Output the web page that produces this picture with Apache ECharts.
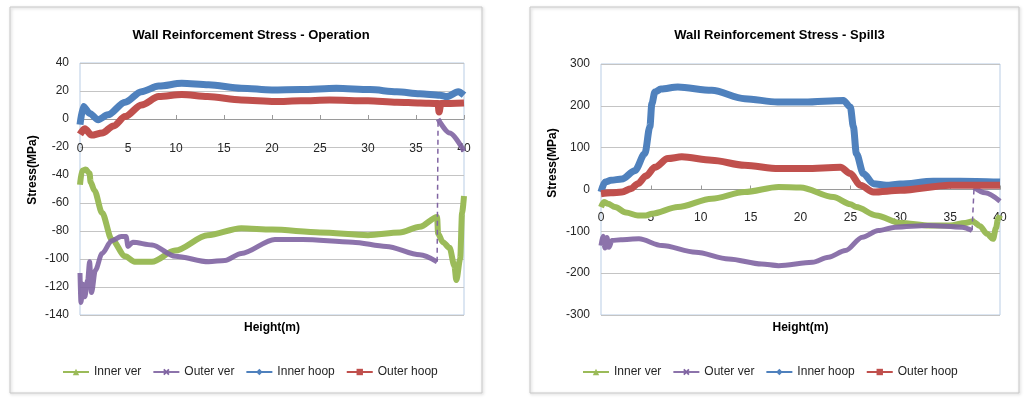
<!DOCTYPE html>
<html lang="en">
<head>
<meta charset="UTF-8">
<title>Wall Reinforcement Stress</title>
<script src="https://cdn.jsdelivr.net/npm/echarts@6/dist/echarts.min.js"></script>
<style>
    *{
        margin: 0;
        padding: 0;
    }
    html, body{
        width: 1024px;
        height: 398px;
        background: #fff;
    }
    .container{
        width: 1024px;
        height: 398px;
    }
</style>
</head>
<body>
<div class="container"></div>
<script>
    // ---- Operation ----
    let opInnerVerX = [0, 0.2, 0.6, 1.0, 1.1, 1.5, 2.3, 3.3, 4.7, 5.7, 7.5, 9.9, 13.3, 16.8, 20, 25, 30, 33.3, 35.4, 37.2, 37.3, 37.8, 38.5, 39.0, 39.2, 39.6, 39.8, 40];
    let opInnerVer  = [-47, -37, -36, -39, -45, -51, -67, -86, -98, -102, -102, -94, -83, -78, -79, -81, -83, -81, -77, -70, -82, -88, -92, -105, -115, -100, -67, -55];

    let opOuterVerLowX = [0, 0.1, 0.3, 0.5, 0.8, 1.0, 1.2, 1.6, 2.3, 3.3, 4.3, 4.8, 5.0, 5.5, 7.5, 9.9, 13.4, 15.1, 16.8, 20.3, 23.2, 28.4, 31.9, 35.4, 37.2];
    let opOuterVerLow  = [-110, -131, -118, -127, -115, -102, -124, -108, -96, -87, -84, -84, -91, -88, -90, -98, -102, -101, -96, -86, -86, -88, -91, -97, -102];
    let opOuterVerTopX = [37.3, 38.5, 40];
    let opOuterVerTop  = [0, -10, -23];

    let opInnerHoopX = [0, 0.35, 1, 1.9, 2.9, 4.7, 6.4, 8.2, 10.6, 13.4, 16.8, 20, 23, 26.7, 30.2, 33, 35.4, 37.5, 38.2, 39.4, 40];
    let opInnerHoop  = [-4, 9, 4, -0.5, 3, 12, 19.5, 23.5, 25.5, 24.5, 22, 20.7, 21, 22, 21, 19.5, 18, 17, 16, 19.5, 17];

    let opOuterHoopX = [0, 0.5, 1.2, 2.3, 3.5, 4.7, 6.4, 8.2, 10.6, 13.3, 16.8, 20.3, 23, 26, 30, 33, 35.4, 37.3, 37.4, 37.6, 40];
    let opOuterHoop  = [-11, -7, -11.5, -10, -5, 1.7, 10, 16, 17.5, 16, 13.6, 12.5, 13, 13.5, 13, 12, 11.4, 11, 5, 11, 11.4];

    // ---- Spill3 ----
    let spInnerVerX = [0, 0.3, 0.7, 1.4, 2.5, 3.7, 4.5, 5.1, 7.7, 11.1, 14.4, 17.8, 20, 23.3, 25, 25.6, 27.6, 30, 33, 35, 36.5, 37.3, 37.4, 38, 38.7, 39.3, 39.6, 39.8, 40];
    let spInnerVer  = [-42, -30, -34, -42, -55, -62, -62, -58, -42, -22, -6, 6, 5, -18, -35, -42, -62, -80, -86, -86, -80, -76, -78, -88, -106, -118, -92, -70, -62];

    let spOuterVerLowX = [0, 0.2, 0.4, 0.6, 0.8, 1.1, 2, 3.8, 6.1, 9.5, 12.8, 16.1, 17.8, 21.2, 22.8, 24.5, 26.2, 27.8, 29.5, 32.8, 36.2, 37.2];
    let spOuterVerLow  = [-134, -112, -140, -115, -138, -122, -120, -118, -134, -150, -166, -178, -182, -174, -162, -146, -114, -98, -90, -86, -90, -98];
    let spOuterVerTopX = [37.4, 38.5, 40];
    let spOuterVerTop  = [5, -8, -28];

    let spInnerHoopX = [0, 0.4, 1, 2.1, 3.4, 4.4, 4.9, 5.1, 5.4, 6, 7.7, 11.1, 14.4, 17.7, 20.4, 24.3, 25, 25.3, 25.6, 26.3, 27.3, 28.6, 30, 33.3, 36, 40];
    let spInnerHoop  = [-6, 18, 22, 25, 45, 86, 150, 205, 233, 240, 245, 237, 217, 209, 209, 213, 197, 150, 86, 38, 14, 10, 13, 20, 20, 18];

    let spOuterHoopX = [0, 1, 2.1, 3, 3.7, 4.5, 5.4, 6.7, 8.1, 11.1, 14.4, 17.8, 20.5, 24, 25, 26, 27.3, 30, 35, 40];
    let spOuterHoop  = [-10, -8, -6, 2, 14, 32, 53, 74, 78, 70, 58, 50, 50, 53, 38, 10, -6, -2, 10, 10];

    let names = ['Inner ver', 'Outer ver', 'Inner hoop', 'Outer hoop'];
    let titles = ['Wall Reinforcement Stress - Operation', 'Wall Reinforcement Stress - Spill3'];
    let xTicks = {min: 0, max: 40, interval: 5};
    let yTicks = [{min: -140, max: 40, interval: 20}, {min: -300, max: 300, interval: 100}];

    const FONT = "'Liberation Sans', Arial, sans-serif";
    const colors = {'Inner ver': '#9bbb59', 'Outer ver': '#8064a2', 'Inner hoop': '#4f81bd', 'Outer hoop': '#c0504d'};
    const symbols = {
        'Inner ver': 'triangle',
        'Outer ver': 'path://M0,2L2,0L5,3L8,0L10,2L7,5L10,8L8,10L5,7L2,10L0,8L3,5Z',
        'Inner hoop': 'diamond',
        'Outer hoop': 'rect'
    };

    let container = document.querySelector('.container');
    let mycharts = echarts.init(container);

    function pairs(xs, ys){
        return xs.map((x, i) => [x, ys[i]]);
    }

    function line(name, data, grid, opts){
        return Object.assign({
            name: name,
            type: 'line',
            xAxisIndex: grid,
            yAxisIndex: grid,
            data: data,
            symbol: symbols[name],
            showSymbol: false,
            smooth: 0.3,
            smoothMonotone: 'x',
            lineStyle: {color: colors[name], width: 7},
            itemStyle: {color: colors[name]},
            emphasis: {disabled: true},
            animation: false
        }, opts || {});
    }

    let sets = [
        {iv: pairs(opInnerVerX, opInnerVer), lo: pairs(opOuterVerLowX, opOuterVerLow), hi: pairs(opOuterVerTopX, opOuterVerTop),
         ih: pairs(opInnerHoopX, opInnerHoop), oh: pairs(opOuterHoopX, opOuterHoop)},
        {iv: pairs(spInnerVerX, spInnerVer), lo: pairs(spOuterVerLowX, spOuterVerLow), hi: pairs(spOuterVerTopX, spOuterVerTop),
         ih: pairs(spInnerHoopX, spInnerHoop), oh: pairs(spOuterHoopX, spOuterHoop)}
    ];

    let series = [];
    sets.forEach((s, g) => {
        series.push(line('Inner ver', s.iv, g, {lineStyle: {color: colors['Inner ver'], width: 6}}));
        series.push(line('Outer ver', s.lo, g, {lineStyle: {color: colors['Outer ver'], width: 5, opacity: 0.9}}));
        // the jump in the outer vertical curve shows up as a thin broken line
        series.push(line('Outer ver', [s.lo[s.lo.length - 1], s.hi[0]], g,
            {smooth: false, lineStyle: {color: colors['Outer ver'], width: 1.5, type: [5, 4]}}));
        series.push(line('Outer ver', s.hi, g, {lineStyle: {color: colors['Outer ver'], width: 5, opacity: 0.9}}));
        series.push(line('Inner hoop', s.ih, g));
        series.push(line('Outer hoop', s.oh, g));
    });

    let grids = [
        {left: 80, top: 63, width: 384, height: 252},
        {left: 601, top: 64, width: 399, height: 251}
    ];
    let boxes = [
        {x: 10, y: 7, width: 472, height: 386},
        {x: 530, y: 7, width: 489, height: 386}
    ];
    // pixel distance from the bottom of each plot up to its zero line
    let zeroLift = grids.map((g, i) => g.height * (0 - yTicks[i].min) / (yTicks[i].max - yTicks[i].min));

    let options = {
        backgroundColor: '#fff',
        animation: false,
        title: titles.map((t, i) => ({
            text: t,
            left: boxes[i].x + boxes[i].width / 2,
            top: 24,
            textAlign: 'center',
            textStyle: {fontFamily: FONT, fontSize: 13, fontWeight: 'bold', color: '#000'}
        })),
        grid: grids.map(g => Object.assign({
            show: true, borderColor: '#b9cde5', borderWidth: 1, backgroundColor: 'transparent',
            containLabel: false, outerBoundsMode: 'none'
        }, g)),
        xAxis: [0, 1].map(i => ({
            gridIndex: i,
            type: 'value',
            min: xTicks.min,
            max: xTicks.max,
            interval: xTicks.interval,
            position: 'bottom',
            offset: -zeroLift[i],
            name: 'Height(m)',
            nameLocation: 'middle',
            nameGap: zeroLift[i] + 7,
            nameTextStyle: {fontFamily: FONT, fontSize: 12, fontWeight: 'bold', color: '#000'},
            axisLine: {onZero: false, lineStyle: {color: '#9a9a9a', width: 1}},
            axisTick: {show: true, inside: true, length: 4, lineStyle: {color: '#9a9a9a'}},
            axisLabel: {margin: i === 0 ? 24 : 22, fontFamily: FONT, fontSize: 12, color: '#262626'},
            splitLine: {show: false}
        })),
        yAxis: [0, 1].map(i => ({
            gridIndex: i,
            type: 'value',
            min: yTicks[i].min,
            max: yTicks[i].max,
            interval: yTicks[i].interval,
            axisLine: {show: false},
            axisTick: {show: false},
            axisLabel: {margin: 11, fontFamily: FONT, fontSize: 12, color: '#262626'},
            splitLine: {lineStyle: {color: '#c4c4c4', width: 1}}
        })),
        legend: [57, 577].map(x => ({
            data: names,
            left: x,
            top: 361,
            itemWidth: 26,
            itemHeight: 8,
            itemGap: 11,
            lineStyle: {width: 2},
            textStyle: {fontFamily: FONT, fontSize: 12, color: '#262626'}
        })),
        graphic: [
            ...boxes.map(b => ({
                type: 'rect',
                silent: true,
                shape: b,
                style: {fill: 'none', stroke: '#c8c8c8', lineWidth: 1, shadowBlur: 3, shadowColor: 'rgba(0,0,0,0.25)', shadowOffsetX: 1, shadowOffsetY: 1}
            })),
            ...[[33, 170], [553, 163]].map(p => ({
                type: 'text',
                silent: true,
                x: p[0],
                y: p[1],
                rotation: Math.PI / 2,
                style: {text: 'Stress(MPa)', fontFamily: FONT, fontSize: 12, fontWeight: 'bold', fill: '#000', align: 'center', verticalAlign: 'middle'}
            }))
        ],
        series
    };

    mycharts.setOption(options);
</script>
</body>
</html>
